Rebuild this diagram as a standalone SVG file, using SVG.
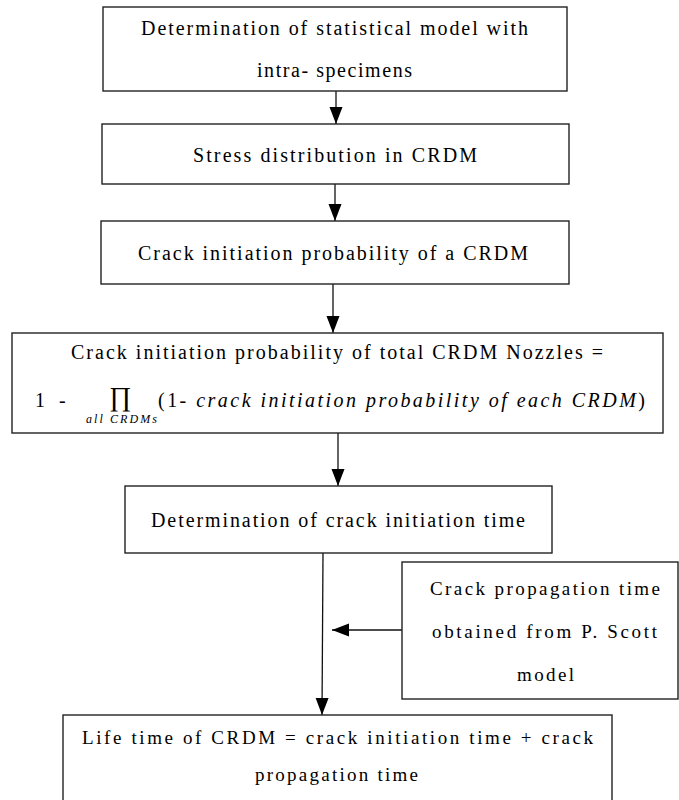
<svg xmlns="http://www.w3.org/2000/svg" width="679" height="800" viewBox="0 0 679 800">
<defs>
<marker id="ah" markerUnits="userSpaceOnUse" markerWidth="18" markerHeight="14" refX="17" refY="7" orient="auto">
<path d="M0,0.5 L17,7 L0,13.5 Z" fill="#000"/>
</marker>
<style>
.box{fill:#fff;stroke:#222;stroke-width:1.4}
text{font-family:'Liberation Serif','Times New Roman',Times,serif;font-size:20px;fill:#000}
.s{font-size:19px}
.i{font-style:italic}
.con{stroke:#111;stroke-width:1.3;fill:none;marker-end:url(#ah)}
</style>
</defs>
<rect width="679" height="800" fill="#fff"/>
<g id="connectors">
<line class="con" x1="336" y1="91" x2="336" y2="124"/>
<line class="con" x1="335" y1="184" x2="335" y2="221"/>
<line class="con" x1="333" y1="284" x2="333" y2="333"/>
<line class="con" x1="338" y1="433" x2="338" y2="486"/>
<line class="con" x1="323" y1="553" x2="322" y2="715"/>
<line class="con" x1="402" y1="630" x2="332" y2="630"/>
</g>
<g id="n1">
<rect class="box" x="103" y="7" width="464" height="84"/>
<text x="141" y="35" textLength="387" lengthAdjust="spacing">Determination of statistical model with</text>
<text x="257" y="77" textLength="155" lengthAdjust="spacing">intra- specimens</text>
</g>
<g id="n2">
<rect class="box" x="102" y="124" width="467" height="60"/>
<text x="193" y="162" textLength="284" lengthAdjust="spacing">Stress distribution in CRDM</text>
</g>
<g id="n3">
<rect class="box" x="101" y="221" width="468" height="63"/>
<text x="138" y="260" textLength="390" lengthAdjust="spacing">Crack initiation probability of a CRDM</text>
</g>
<g id="n4">
<rect class="box" x="12" y="333" width="651" height="100"/>
<text x="71" y="359" textLength="532" lengthAdjust="spacing">Crack initiation probability of total CRDM Nozzles =</text>
<text x="35" y="407">1</text>
<text x="59" y="407">-</text>
<text x="109" y="406" style="font-size:27px">∏</text>
<text class="i" x="86" y="423" style="font-size:12px" textLength="71" lengthAdjust="spacing">all CRDMs</text>
<text x="158" y="407" textLength="487" lengthAdjust="spacing">(1- <tspan class="i">crack initiation probability of each CRDM</tspan>)</text>
</g>
<g id="n5">
<rect class="box" x="125" y="486" width="427" height="67"/>
<text x="151" y="527" textLength="374" lengthAdjust="spacing">Determination of crack initiation time</text>
</g>
<g id="n6">
<rect class="box" x="402" y="562" width="276" height="137"/>
<text class="s" x="430" y="595" textLength="230" lengthAdjust="spacing">Crack propagation time</text>
<text class="s" x="432" y="638" textLength="225" lengthAdjust="spacing">obtained from P. Scott</text>
<text class="s" x="517" y="681" textLength="57" lengthAdjust="spacing">model</text>
</g>
<g id="n7">
<rect class="box" x="63" y="715" width="549" height="95"/>
<text class="s" x="82" y="744" textLength="511" lengthAdjust="spacing">Life time of CRDM = crack initiation time + crack</text>
<text class="s" x="255" y="781" textLength="163" lengthAdjust="spacing">propagation time</text>
</g>
</svg>
